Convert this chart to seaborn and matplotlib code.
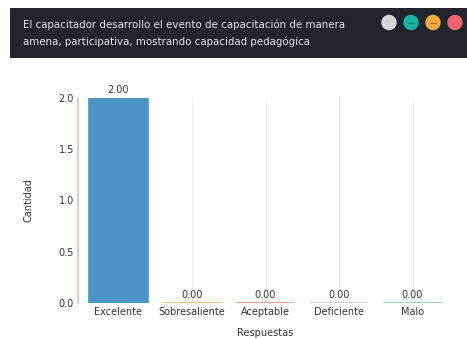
import matplotlib
matplotlib.use("Agg")
import matplotlib.pyplot as plt
import seaborn as sns
import pandas as pd
from matplotlib.patches import Rectangle, Circle

categories = ["Excelente", "Sobresaliente", "Aceptable", "Deficiente", "Malo"]
values = [2.0, 0.0, 0.0, 0.0, 0.0]
bar_colors = ["#4a94c8", "#f0b070", "#e89080", "#c8c8c8", "#90c890"]
title = "El capacitador desarrollo el evento de capacitación de manera\namena, participativa, mostrando capacidad pedagógica"
dot_colors = ["#d6d6d6", "#17b3a3", "#f2a93b", "#ea6370"]

sns.set_theme(style="whitegrid")
plt.rcParams['font.family'] = ['DejaVu Sans']

fig = plt.figure(figsize=(4.67, 3.39), dpi=100)
W, H = 467, 339

# header bar
hdr = fig.add_axes([10 / W, 1 - 58 / H, 457 / W, 50 / H])
hdr.set_xlim(0, 457)
hdr.set_ylim(50, 0)
hdr.axis('off')
hdr.add_patch(Rectangle((0, 0), 457, 50, color="#22252c"))
hdr.text(13, 25.5, title, color="#e6e6e6", fontsize=7.35, va="center", ha="left", linespacing=1.8)
for i, c in enumerate(dot_colors):
    cx = 379 + i * 22
    hdr.add_patch(Circle((cx, 14.5), 7, color=c))
    if i in (1, 2):
        hdr.plot([cx - 3, cx + 3], [14.5, 14.5], color="#00000055", lw=0.8)

df = pd.DataFrame({"Respuestas": categories, "Cantidad": values})
ax = fig.add_axes([78 / W, 1 - 303 / H, 375 / W, 205 / H])
sns.barplot(data=df, x="Respuestas", y="Cantidad", hue="Respuestas",
            palette=bar_colors, legend=False, width=0.8, ax=ax, saturation=1)
for p, c in zip(ax.patches, bar_colors):
    p.set_edgecolor(c)
    p.set_linewidth(1.2)
ax.set_xlim(-0.55, 4.55)
ax.set_ylim(0, 2.0)
ax.set_yticks([0, 0.5, 1.0, 1.5, 2.0])
ax.set_yticklabels(["0.0", "0.5", "1.0", "1.5", "2.0"])
ax.grid(axis="y", visible=False)
ax.grid(axis="x", color="#eeeeee", linewidth=0.8)
for s in ["top", "right", "bottom"]:
    ax.spines[s].set_visible(False)
ax.spines["left"].set_color("#e0cdb8")
ax.spines["left"].set_linewidth(1.5)
ax.tick_params(axis="both", labelsize=7, colors="#333333", length=0, pad=3)
for i, v in enumerate(values):
    ax.annotate(f"{v:.2f}", (i, v), xytext=(0, 2), textcoords="offset points",
                ha="center", va="bottom", fontsize=7, color="#333333",
                annotation_clip=False)
ax.set_xlabel("Respuestas", fontsize=7, color="#333333", labelpad=8)
ax.set_ylabel("Cantidad", fontsize=7, color="#333333", labelpad=18)

fig.savefig("out.png", dpi=100, facecolor="white")
